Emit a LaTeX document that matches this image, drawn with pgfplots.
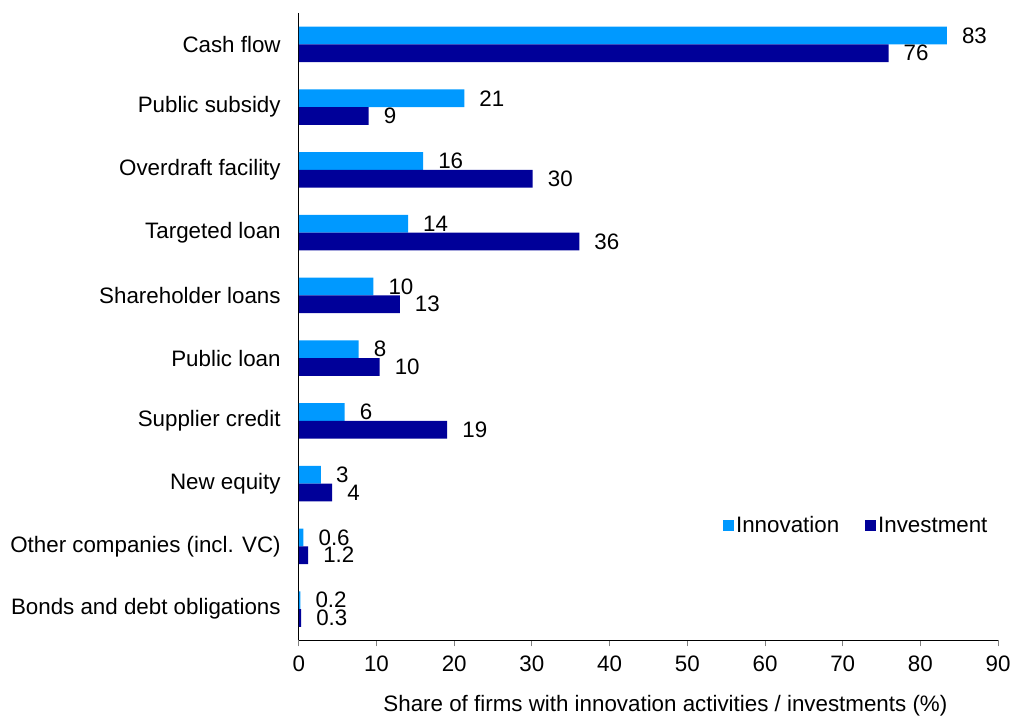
\documentclass[border=0pt]{standalone}
\usepackage{pgfplots}
\usepackage{pgfplotstable}
\pgfplotsset{compat=1.18}
\usepackage{fontspec}
\setmainfont{Liberation Sans}
\definecolor{innov}{RGB}{0,153,255}
\definecolor{invest}{RGB}{0,0,153}
\newcommand{\chartfont}{\fontsize{22.4}{26}\selectfont}
\pgfplotstableread{
y val lab
0 83.4 83
1 21.3 21
2 16.0 16
3 14.06 14
4 9.6 10
5 7.7 8
6 5.9 6
7 2.85 3
8 0.6 0.6
9 0.2 0.2
}\innovdata
\pgfplotstableread{
y val lab
0 75.9 76
1 9.0 9
2 30.1 30
3 36.1 36
4 13.0 13
5 10.4 10
6 19.1 19
7 4.3 4
8 1.2 1.2
9 0.3 0.3
}\investdata
\begin{document}
\chartfont
\begin{tikzpicture}
\begin{axis}[
  scale only axis,
  width=701pt, height=629pt,
  xmin=0, xmax=90,
  ymin=-0.5, ymax=9.5,
  y dir=reverse,
  axis x line*=bottom,
  axis y line*=left,
  axis line style={black, line width=1pt},
  xtick={0,10,...,90},
  xtick style={draw=gray, line width=0.8pt},
  tick align=outside,
  major tick length=6pt,
  ytick={0,...,9},
  yticklabels={Cash flow,Public subsidy,Overdraft facility,Targeted loan,Shareholder loans,Public loan,Supplier credit,New equity,Other companies (incl. VC),Bonds and debt obligations},
  ytick style={draw=none},
  yticklabel style={font=\chartfont, inner sep=0pt, xshift=-12pt},
  xticklabel style={font=\chartfont, yshift=-2pt},
  /pgf/number format/assume math mode=true,
  xlabel={Share of firms with innovation activities / investments (\%)},
  xlabel style={font=\chartfont, at={(axis description cs:0.5,0)}, anchor=center, yshift=-65pt, xshift=17pt},
  xbar,
  bar width=17.7pt,
  nodes near coords,
  point meta=explicit symbolic,
  nodes near coords style={font=\chartfont, anchor=west, xshift=15pt, inner sep=0pt},
  legend style={draw=none, fill=none, at={(axis cs:54.2,7.68)}, anchor=west, legend columns=2, font=\chartfont, /tikz/every even column/.append style={column sep=24pt}},
  legend image code/.code={\fill[#1] (-3pt,-5pt) rectangle (8pt,6pt);},
  clip=false,
]
\addplot[fill=innov, draw=none, bar shift=8.85pt] table[x=val, y=y, meta=lab]{\innovdata};
\addplot[fill=invest, draw=none, bar shift=-8.85pt] table[x=val, y=y, meta=lab]{\investdata};
\legend{Innovation, Investment}
\path (rel axis cs:0,0) ++(-299.5pt,-76pt) rectangle ++(1018pt,718pt);
\end{axis}
\end{tikzpicture}
\end{document}
